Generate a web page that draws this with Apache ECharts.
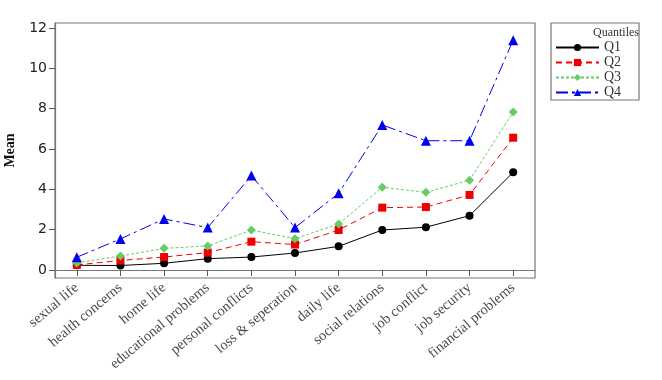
<!DOCTYPE html>
<html><head><meta charset="utf-8">
<script src="https://cdn.jsdelivr.net/npm/echarts@6/dist/echarts.min.js"></script>
<style>html,body{margin:0;padding:0;background:#fff}#c{width:662px;height:380px}</style>
</head><body><div id="c"></div>
<script>
var categories = ["sexual life","health concerns","home life","educational problems","personal conflicts","loss & seperation","daily life","social relations","job conflict","job security","financial problems"];
var q1 = [0.23,0.22,0.33,0.56,0.64,0.84,1.17,1.98,2.12,2.69,4.84];
var q2 = [0.25,0.47,0.64,0.86,1.40,1.26,1.98,3.09,3.12,3.72,6.56];
var q3 = [0.35,0.69,1.07,1.19,1.98,1.55,2.28,4.10,3.85,4.45,7.83];
var q4 = [0.63,1.54,2.53,2.10,4.68,2.10,3.80,7.19,6.41,6.41,11.40];
var yTicks = [0,2,4,6,8,10,12];

var chart = echarts.init(document.getElementById('c'), null, {renderer:'canvas'});
function mk(name, data, color, symbol, size, lineType, lw) {
  return {name:name, type:'line', data:data, symbol:symbol, symbolSize:size,
    itemStyle:{color:color}, lineStyle:{color:color, width:lw||1, type:lineType}, z: 3};
}
chart.setOption({
  animation:false,
  grid:{left:55, top:23, right:127, bottom:102, containLabel:false, outerBoundsMode:'none',
    show:true, borderColor:'#777', borderWidth:1.2},
  xAxis:{type:'category', data:categories, boundaryGap:true,
    axisLine:{show:true, lineStyle:{color:'#777', width:1.2}},
    axisTick:{show:true, alignWithLabel:true, length:6, lineStyle:{color:'#555'}},
    axisLabel:{rotate:40, margin:8, fontFamily:'Liberation Serif', fontSize:14.5, color:'#4a4a4a', interval:0}},
  yAxis:{type:'value', min:-0.4, max:12.25,
    axisLine:{show:true, lineStyle:{color:'#777', width:1.2}},
    axisTick:{show:true, length:6, customValues:yTicks, lineStyle:{color:'#555'}},
    axisLabel:{customValues:yTicks, fontFamily:'DejaVu Sans', fontSize:14, color:'#222', margin:8},
    splitLine:{show:false},
    name:'Mean', nameLocation:'middle', nameGap:38, nameRotate:90,
    nameTextStyle:{fontFamily:'Liberation Serif', fontWeight:'bold', fontSize:14, color:'#111'}},
  legend:{orient:'vertical', left:555, top:40, padding:0, itemWidth:43, itemHeight:9, itemGap:0,
    textStyle:{fontFamily:'Liberation Serif', fontSize:14, color:'#333', lineHeight:15, height:15},
    data:['Q1','Q2','Q3','Q4']},
  graphic:[
    {type:'rect', shape:{x:551, y:23, width:88, height:77}, style:{fill:'none', stroke:'#777', lineWidth:1.2}},
    {type:'text', left:593, top:27, style:{text:'Quantiles', font:'12px "Liberation Serif"', fill:'#333'}}
  ],
  series:[
    mk('Q1', q1, '#000000', 'circle', 8, 'solid', 1),
    mk('Q2', q2, '#ee0000', 'rect', 8, [6,4], 1),
    mk('Q3', q3, '#66cc66', 'diamond', 9, [3,2], 1),
    mk('Q4', q4, '#0000ee', 'triangle', 10, [12,4,3,4], 1)
  ]
});
</script></body></html>
